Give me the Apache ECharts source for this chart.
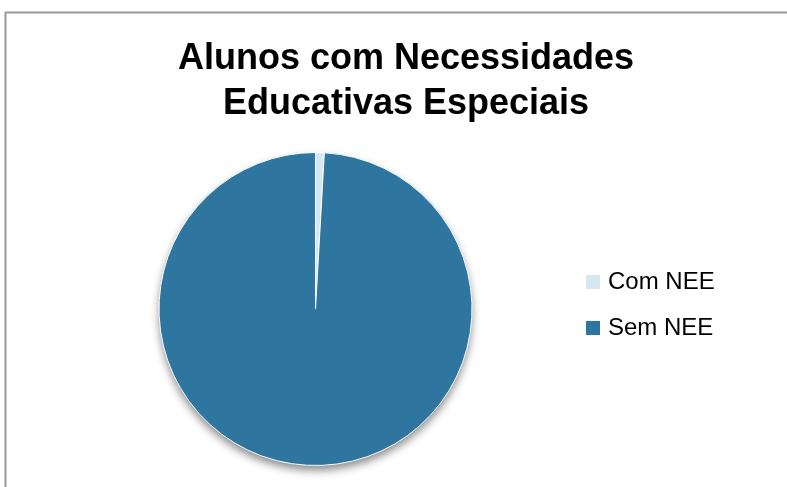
<!DOCTYPE html>
<html><head><meta charset="utf-8">
<script src="https://cdn.jsdelivr.net/npm/echarts@6/dist/echarts.min.js"></script>
<style>html,body{margin:0;padding:0;background:#fff}#c{width:787px;height:487px}</style>
</head><body><div id="c"></div>
<script>
const titleLines = ["Alunos com Necessidades", "Educativas Especiais"];
const categories = ["Com NEE", "Sem NEE"];
const values = [0.9, 99.1];
const colors = ["#d5e8f2", "#2e75a0"];

const pieData = () => categories.map((n, i) => ({ name: n, value: values[i], itemStyle: { color: colors[i] } }));
const chart = echarts.init(document.getElementById('c'));
chart.setOption({
  backgroundColor: '#fff',
  animation: false,
  title: {
    text: titleLines.join('\n'),
    left: 401, top: 32, textAlign: 'center',
    textStyle: { fontFamily: 'Liberation Sans, Arial, sans-serif', fontSize: 36, fontWeight: 'bold', color: '#000', lineHeight: 44.5 }
  },
  graphic: [{
    type: 'rect', shape: { x: 5.5, y: 12.5, width: 800, height: 500 },
    style: { fill: 'none', stroke: '#999', lineWidth: 2 }, silent: true
  }],
  legend: {
    orient: 'vertical', left: 586, top: 270, padding: 0, itemWidth: 14, itemHeight: 14, itemGap: 22,
    icon: 'rect',
    textStyle: { fontFamily: 'Liberation Sans, Arial, sans-serif', fontSize: 24, color: '#000', padding: [0,0,0,3] },
    data: categories
  },
  series: [{
    type: 'pie', center: [315.5, 309], radius: 156.5, startAngle: 90, clockwise: true, z: 1, silent: true,
    label: { show: false }, labelLine: { show: false },
    itemStyle: { shadowBlur: 8, shadowOffsetY: 5, shadowColor: 'rgba(0,0,0,0.45)' },
    emphasis: { disabled: true },
    data: pieData()
  }, {
    type: 'pie', center: [315.5, 309], radius: 156.5, startAngle: 90, clockwise: true, z: 2,
    label: { show: false }, labelLine: { show: false },
    itemStyle: { borderColor: '#fff', borderWidth: 1 },
    emphasis: { disabled: true },
    data: pieData()
  }]
});
</script></body></html>
